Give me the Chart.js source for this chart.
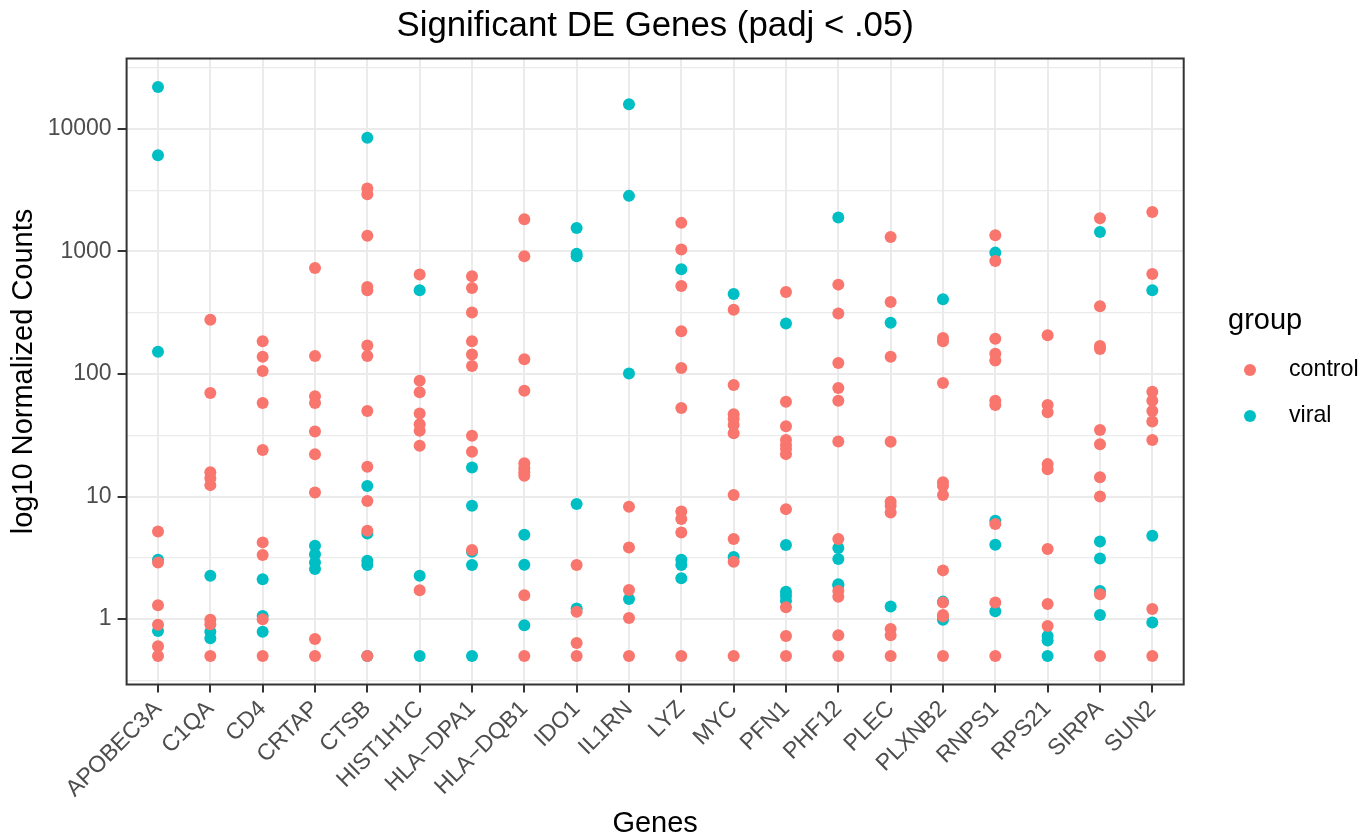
<!DOCTYPE html>
<html>
<head>
<meta charset="utf-8">
<script src="https://cdn.jsdelivr.net/npm/chart.js@4.4.1/dist/chart.umd.min.js"></script>
<style>
  html, body { margin: 0; padding: 0; background: #ffffff; }
  canvas { display: block; }
</style>
</head>
<body>
<canvas id="myChart" width="1362" height="835"></canvas>
<script>
const genes = ['APOBEC3A', 'C1QA', 'CD4', 'CRTAP', 'CTSB', 'HIST1H1C', 'HLA\u2212DPA1', 'HLA\u2212DQB1', 'IDO1', 'IL1RN',
    'LYZ', 'MYC', 'PFN1', 'PHF12', 'PLEC', 'PLXNB2', 'RNPS1', 'RPS21', 'SIRPA', 'SUN2'];

// normalized counts per gene (zeros shown at 0.5)
const controlCounts = [
    [5.2, 2.9, 1.3, 0.9, 0.6, 0.5],
    [277, 70, 15.8, 14.1, 12.4, 0.99, 0.91, 0.5],
    [185, 138, 106, 58, 24, 4.23, 3.33, 1.0, 0.5],
    [733, 140, 66, 58, 34, 22.1, 10.8, 0.69, 0.5],
    [3260, 2930, 1340, 513, 482, 171, 140, 50, 17.5, 9.2, 5.26, 0.5],
    [647, 88, 71, 47.7, 39, 34.4, 26, 1.72],
    [627, 504, 317, 185, 144, 116, 31.4, 23.2, 3.66],
    [1833, 914, 132, 73, 18.7, 17, 15.8, 14.8, 1.57, 0.5],
    [2.76, 1.15, 0.64, 0.5],
    [8.26, 3.85, 1.73, 1.02, 0.5],
    [1710, 1035, 523, 223, 112, 52.8, 7.57, 6.55, 5.1, 0.5],
    [335, 81.3, 47, 43, 38.4, 32.8, 10.3, 4.5, 2.94, 0.5],
    [467, 59.4, 37.4, 29, 26.3, 24.5, 22.2, 7.9, 1.25, 0.73, 0.5],
    [536, 311, 123, 77, 60.5, 28.2, 4.5, 1.7, 1.52, 0.74, 0.5],
    [1312, 387, 138, 28, 9.07, 8.4, 7.43, 0.83, 0.74, 0.5],
    [197, 185, 84.5, 13.1, 12.2, 10.3, 2.5, 1.37, 1.08, 1.05, 0.5],
    [1356, 836, 194, 146, 129, 60.5, 55.8, 5.97, 1.37, 0.5],
    [207, 55.8, 48.7, 18.4, 16.7, 3.73, 1.33, 0.88],
    [1866, 357, 169, 160, 35, 26.7, 14.4, 10.0, 1.6, 0.5],
    [2100, 655, 71.8, 60.5, 50, 41, 29, 1.21, 0.5]
];

const viralCounts = [
    [22000, 6100, 152, 3.05, 0.8],
    [2.26, 0.79, 0.70],
    [2.12, 1.06, 0.79],
    [3.97, 3.39, 2.9, 2.56],
    [8450, 12.2, 5.0, 2.99, 2.76, 0.5],
    [482, 2.26, 0.5],
    [17.3, 8.4, 3.55, 2.76, 0.5],
    [4.88, 2.78, 0.89],
    [1556, 959, 914, 8.7, 1.22],
    [15900, 2840, 101, 1.46],
    [716, 3.05, 2.76, 2.16],
    [450, 3.22],
    [258, 4.02, 1.67, 1.55, 1.41],
    [1890, 3.8, 3.09, 1.93, 1.88],
    [262, 1.27],
    [408, 1.39, 0.99],
    [978, 6.35, 4.04, 1.16],
    [0.73, 0.67, 0.5],
    [1443, 4.3, 3.13, 1.7, 1.08],
    [482, 4.79, 0.94]
];

const yTicks = [1, 10, 100, 1000, 10000];
const yMinorTicks = [0.316, 3.16, 31.6, 316, 3162, 31623];
const yMin = 0.293;
const yMax = 37500;

const FONT = "'Liberation Sans', Arial, sans-serif";

function toPoints(counts) {
    var pts = [];
    counts.forEach(function (vals, i) {
        vals.forEach(function (v) { pts.push({ x: i, y: v }); });
    });
    return pts;
}

function isMajor(v) {
    return yTicks.some(function (t) { return Math.abs(t - v) / t < 1e-6; });
}

// panel border, title and legend in ggplot style
const decorPlugin = {
    id: 'decor',
    afterDatasetsDraw(chart) {
        const ctx = chart.ctx, a = chart.chartArea;
        ctx.save();
        ctx.strokeStyle = '#333333';
        ctx.lineWidth = 2;
        ctx.strokeRect(a.left, a.top, a.right - a.left, a.bottom - a.top);
        ctx.restore();
    },
    afterDraw(chart) {
        const ctx = chart.ctx, a = chart.chartArea;
        ctx.save();
        ctx.fillStyle = '#000000';
        ctx.textAlign = 'center';
        ctx.textBaseline = 'alphabetic';
        ctx.font = '34.8px ' + FONT;
        ctx.fillText('Significant DE Genes (padj < .05)', (a.left + a.right) / 2, 35.5);

        ctx.textAlign = 'left';
        ctx.font = '29px ' + FONT;
        ctx.fillText('group', 1228, 329);

        ctx.font = '23.2px ' + FONT;
        ctx.textBaseline = 'middle';
        chart.data.datasets.forEach(function (ds, i) {
            const y = 370 + i * 46;
            ctx.fillStyle = ds.pointBackgroundColor;
            ctx.beginPath();
            ctx.arc(1250, y, 6, 0, Math.PI * 2);
            ctx.fill();
            ctx.fillStyle = '#000000';
            ctx.fillText(ds.label, 1289, y);
        });
        ctx.restore();
    }
};

var ctx = document.getElementById('myChart').getContext('2d');
var myChart = new Chart(ctx, {
    type: 'scatter',
    data: {
        datasets: [{
            label: 'control',
            data: toPoints(controlCounts),
            pointBackgroundColor: '#F8766D',
            pointBorderWidth: 0,
            pointRadius: 6,
            pointHoverRadius: 6
        }, {
            label: 'viral',
            data: toPoints(viralCounts),
            pointBackgroundColor: '#00BFC4',
            pointBorderWidth: 0,
            pointRadius: 6,
            pointHoverRadius: 6
        }]
    },
    options: {
        responsive: false,
        animation: false,
        devicePixelRatio: 1,
        layout: { padding: { top: 58.5, right: 178.3, bottom: 0, left: 0 } },
        plugins: {
            legend: { display: false },
            title: { display: false },
            tooltip: { enabled: false }
        },
        scales: {
            x: {
                type: 'linear',
                min: -0.6,
                max: genes.length - 0.4,
                afterFit: function (s) { s.height = 150.5; },
                afterBuildTicks: function (s) {
                    s.ticks = genes.map(function (g, i) { return { value: i }; });
                },
                ticks: {
                    autoSkip: false,
                    minRotation: 45,
                    maxRotation: 45,
                    padding: 3,
                    color: '#4D4D4D',
                    font: { family: FONT, size: 23 },
                    callback: function (v) { return genes[v]; }
                },
                grid: {
                    color: '#EBEBEB',
                    lineWidth: 2,
                    tickColor: '#333333',
                    tickWidth: 2,
                    tickLength: 8
                },
                border: { display: false },
                title: {
                    display: true,
                    text: 'Genes',
                    color: '#000000',
                    font: { family: FONT, size: 29, lineHeight: 0.76 },
                    padding: 0
                }
            },
            y: {
                type: 'logarithmic',
                min: yMin,
                max: yMax,
                afterFit: function (s) { s.width = 126.6; },
                afterBuildTicks: function (s) {
                    s.ticks = yMinorTicks.concat(yTicks).sort(function (p, q) { return p - q; })
                        .map(function (v) { return { value: v }; });
                },
                ticks: {
                    padding: 6,
                    color: '#4D4D4D',
                    font: { family: FONT, size: 23 },
                    callback: function (v) { return isMajor(v) ? String(v) : ''; }
                },
                grid: {
                    color: '#EBEBEB',
                    lineWidth: function (c) { return isMajor(c.tick.value) ? 2 : 1.2; },
                    tickColor: function (c) { return isMajor(c.tick.value) ? '#333333' : 'rgba(0,0,0,0)'; },
                    tickWidth: 2,
                    tickLength: 9
                },
                border: { display: false },
                title: {
                    display: true,
                    text: 'log10 Normalized Counts',
                    color: '#000000',
                    font: { family: FONT, size: 29 },
                    padding: { top: 7, bottom: 0 }
                }
            }
        }
    },
    plugins: [decorPlugin]
});
</script>
</body>
</html>
